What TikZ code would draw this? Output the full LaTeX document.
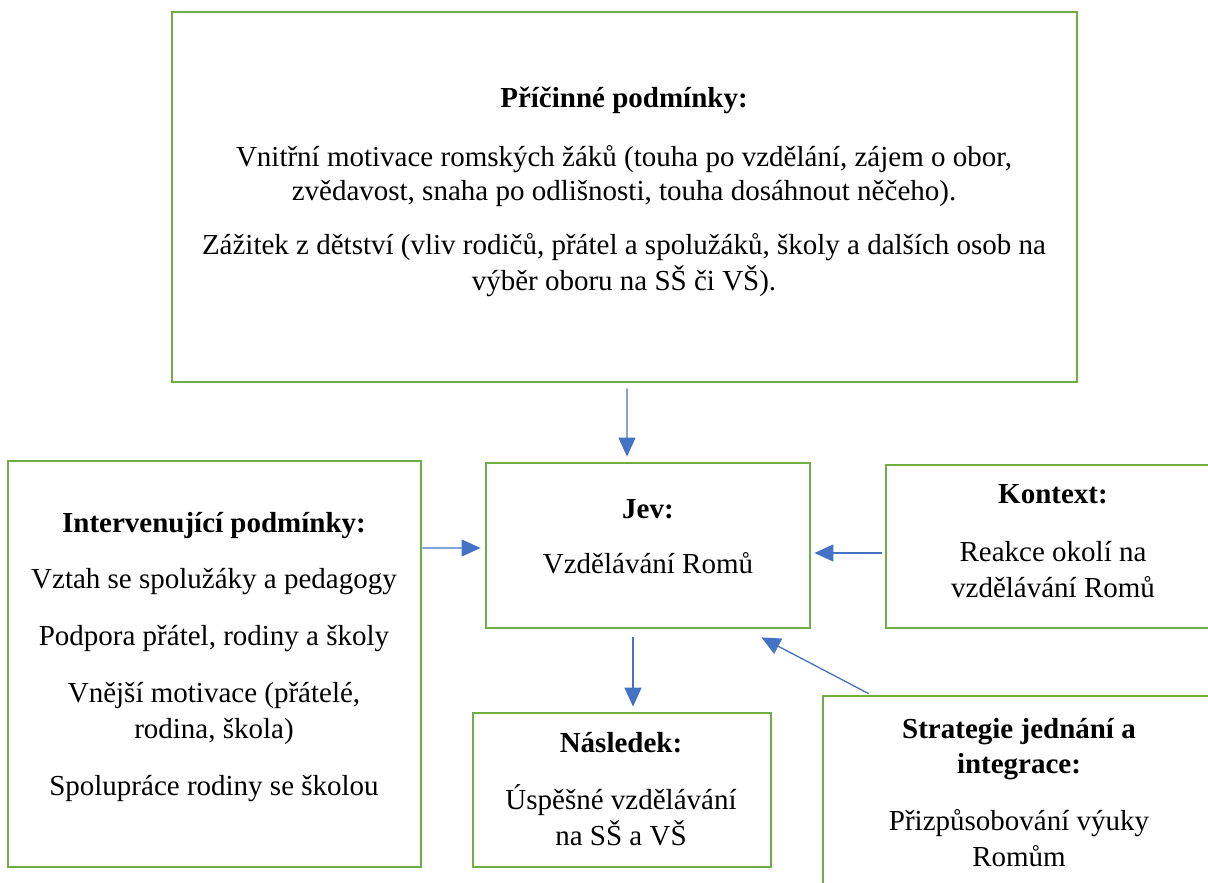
\documentclass[tikz,border=0pt]{standalone}
\usepackage{fontspec}
\setmainfont{Liberation Serif}
\usetikzlibrary{arrows.meta,calc}
\definecolor{boxgreen}{HTML}{70AD47}
\definecolor{arrblue}{HTML}{4472C4}
\tikzset{
  box/.style={draw=boxgreen, line width=2.8bp, rectangle, inner sep=0pt, fill=white},
  ln/.style={anchor=base, inner sep=0pt, font=\fontsize{29bp}{35bp}\selectfont},
  hd/.style={ln, font=\fontsize{29bp}{35bp}\selectfont\bfseries},
  arr/.style={draw=arrblue, line width=1.3bp, -{Triangle[length=19bp,width=17bp]}},
}
\begin{document}
\begin{tikzpicture}[x=1bp,y=-1bp]
\clip (0,0) rectangle (1208,883);
\fill[white] (0,0) rectangle (1208,883);
% boxes
\node[box, minimum width=905bp, minimum height=370bp] (pric) at (624.5,197) {};
\node[box, minimum width=324bp, minimum height=165bp] (jev) at (648,545.5) {};
\node[box, minimum width=413bp, minimum height=406bp] (inter) at (214.5,664) {};
\node[box, minimum width=326bp, minimum height=163bp] (kont) at (1049,546.5) {};
\node[box, minimum width=298bp, minimum height=154bp] (nasl) at (622,790) {};
\node[box, minimum width=389bp, minimum height=199bp] (strat) at (1017.5,795.5) {};
% texts: Příčinné podmínky
\node[hd] (p0) at (624,107) {Příčinné podmínky:};
\node[ln] (p1) at (624,166) {Vnitřní motivace romských žáků (touha po vzdělání, zájem o obor,};
\node[ln] (p2) at (624,200) {zvědavost, snaha po odlišnosti, touha dosáhnout něčeho).};
\node[ln] (p3) at (624,254) {Zážitek z dětství (vliv rodičů, přátel a spolužáků, školy a dalších osob na};
\node[ln] (p4) at (624,290) {výběr oboru na SŠ či VŠ).};
% Jev
\node[hd] (j0) at (648,518) {Jev:};
\node[ln] (j1) at (648,573) {Vzdělávání Romů};
% Intervenující
\node[hd] (i0) at (214,532) {Intervenující podmínky:};
\node[ln] (i1) at (214,588) {Vztah se spolužáky a pedagogy};
\node[ln] (i2) at (214,645) {Podpora přátel, rodiny a školy};
\node[ln] (i3) at (214,702) {Vnější motivace (přátelé,};
\node[ln] (i4) at (214,738) {rodina, škola)};
\node[ln] (i5) at (214,795) {Spolupráce rodiny se školou};
% Kontext
\node[hd] (k0) at (1053,503) {Kontext:};
\node[ln] (k1) at (1053,561) {Reakce okolí na};
\node[ln] (k2) at (1053,597) {vzdělávání Romů};
% Následek
\node[hd] (n0) at (621,752) {Následek:};
\node[ln] (n1) at (621,809) {Úspěšné vzdělávání};
\node[ln] (n2) at (621,845) {na SŠ a VŠ};
% Strategie
\node[hd] (s0) at (1019,738) {Strategie jednání a};
\node[hd] (s1) at (1019,773) {integrace:};
\node[ln] (s2) at (1019,830) {Přizpůsobování výuky};
\node[ln] (s3) at (1019,866) {Romům};
% arrows
\draw[arr] ($(pric.south)+(2.5,5)$) -- ($(jev.north)+(-21,-5)$);
\draw[arr] ($(inter.east)+(0,-116)$) -- ($(jev.west)+(-4,2.5)$);
\draw[arr] ($(kont.west)+(-3,6.5)$) -- ($(jev.east)+(3,7.5)$);
\draw[arr] ($(jev.south)+(-15,8)$) -- ($(nasl.north)+(11,-5)$);
\draw[arr] ($(strat.north west)+(47,-1)$) -- ($(jev.south east)+(-50,8)$);
\end{tikzpicture}
\end{document}
